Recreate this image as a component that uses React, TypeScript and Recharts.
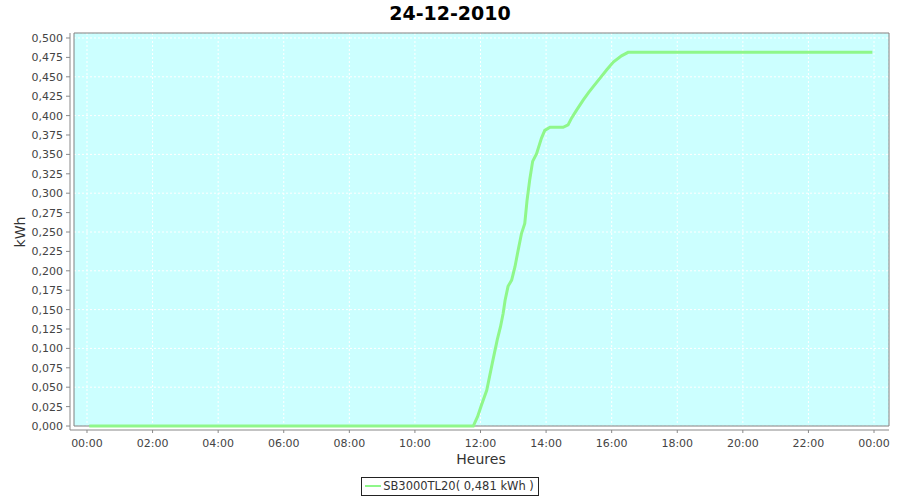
import { ReactNode } from 'react';
import {
  CartesianGrid,
  Line,
  LineChart,
  ReferenceArea,
  XAxis,
  YAxis
} from 'recharts';

// hours since midnight
const hours = [
  0.07, 11.78, 11.91, 12.03, 12.19, 12.36, 12.51, 12.61, 12.69, 12.75, 12.84, 12.95, 13.05,
  13.15, 13.25, 13.35, 13.42, 13.5, 13.59, 13.71, 13.86, 13.96, 14.12, 14.52, 14.67, 14.78,
  14.93, 15.13, 15.3, 15.45, 15.64, 15.85, 16.05, 16.3, 16.5, 23.95
];
// kWh
const energy = [
  0, 0, 0.012, 0.027, 0.046, 0.081, 0.111, 0.128, 0.145, 0.162, 0.18, 0.188, 0.205, 0.227,
  0.248, 0.261, 0.291, 0.317, 0.341, 0.351, 0.371, 0.381, 0.385, 0.385, 0.388, 0.397, 0.407,
  0.42, 0.43, 0.438, 0.448, 0.459, 0.469, 0.477, 0.4815, 0.4815
];
const xTicks = [0, 2, 4, 6, 8, 10, 12, 14, 16, 18, 20, 22, 24];
const yTicks = [
  0, 0.025, 0.05, 0.075, 0.1, 0.125, 0.15, 0.175, 0.2, 0.225, 0.25, 0.275, 0.3, 0.325, 0.35,
  0.375, 0.4, 0.425, 0.45, 0.475, 0.5
];
const seriesName = 'SB3000TL20( 0,481 kWh )';

const data = hours.map((h, i) => ({ h, v: energy[i] }));

const FONT = '"DejaVu Sans", sans-serif';
const LINE_COLOR = '#8ff78a';

// plot frame in pixels (axis lines sit 4px off the plot, JFreeChart style)
const margin = { top: 33, right: 11, bottom: 40, left: 0 };
const Y_AXIS_W = 70;
const X_AXIS_H = 30;
const GAP = 4;

const hh = (v: number) => `${String(v % 24).padStart(2, '0')}:00`;
const fr = (v: number) => v.toFixed(3).replace('.', ',');

export default function App(): ReactNode {
  const width = 900;
  const height = 500;
  const plotW = width - margin.left - margin.right - Y_AXIS_W;
  const plotH = height - margin.top - margin.bottom - X_AXIS_H;
  return (
    <div style={{ position: 'absolute', left: 0, top: 0, width, height, background: '#fff' }}>
      <div
        style={{
          position: 'absolute',
          top: 2,
          left: 0,
          width,
          textAlign: 'center',
          fontFamily: FONT,
          fontWeight: 'bold',
          fontSize: 19,
          color: '#000'
        }}
      >
        24-12-2010
      </div>
      <LineChart
        width={width}
        height={height}
        data={data}
        margin={margin}
        style={{ position: 'absolute', left: 0, top: 0 }}
      >
        <CartesianGrid
          x={margin.left + Y_AXIS_W + GAP}
          y={margin.top}
          width={plotW - GAP}
          height={plotH - GAP}
          fill="#ccffff"
          fillOpacity={1}
          stroke="#ffffff"
          strokeDasharray="2 2"
        />
        <XAxis
          dataKey="h"
          type="number"
          height={X_AXIS_H}
          domain={[-0.518, 24.457]}
          ticks={xTicks}
          tickFormatter={hh}
          allowDataOverflow
          tick={{ fontFamily: FONT, fontSize: 11, fill: '#444' }}
          tickSize={3}
          tickMargin={6}
          stroke="#888"
        />
        <YAxis
          type="number"
          width={Y_AXIS_W}
          domain={[-0.00515, 0.50644]}
          ticks={yTicks}
          tickFormatter={fr}
          allowDataOverflow
          tick={{ fontFamily: FONT, fontSize: 11, fill: '#444' }}
          tickSize={4}
          tickMargin={3}
          stroke="#888"
        />
        <ReferenceArea
          x1={-0.396}
          x2={24.457}
          y1={0}
          y2={0.50644}
          fill="none"
          stroke="#808080"
          strokeWidth={1}
          ifOverflow="visible"
        />
        <Line
          dataKey="v"
          name={seriesName}
          stroke={LINE_COLOR}
          strokeWidth={3}
          dot={false}
          isAnimationActive={false}
        />
      </LineChart>
      <div
        style={{
          position: 'absolute',
          left: 0,
          top: 451,
          width: 900,
          paddingLeft: 62,
          boxSizing: 'border-box',
          textAlign: 'center',
          fontFamily: FONT,
          fontSize: 14,
          color: '#333'
        }}
      >
        Heures
      </div>
      <div
        style={{
          position: 'absolute',
          left: 20,
          top: 232,
          transform: 'translate(-50%, -50%) rotate(-90deg)',
          fontFamily: FONT,
          fontSize: 14,
          color: '#333'
        }}
      >
        kWh
      </div>
      <div
        style={{
          position: 'absolute',
          left: 0,
          top: 477,
          width: 900,
          display: 'flex',
          justifyContent: 'center'
        }}
      >
        <div
          style={{
            border: '1px solid #222',
            padding: '1px 4px 2px 3px',
            display: 'flex',
            alignItems: 'center',
            fontFamily: FONT,
            fontSize: 11.5,
            color: '#333',
            background: '#fff'
          }}
        >
          <span
            style={{
              width: 16,
              height: 2,
              background: LINE_COLOR,
              marginRight: 2,
              display: 'inline-block'
            }}
          />
          {seriesName}
        </div>
      </div>
    </div>
  );
}
